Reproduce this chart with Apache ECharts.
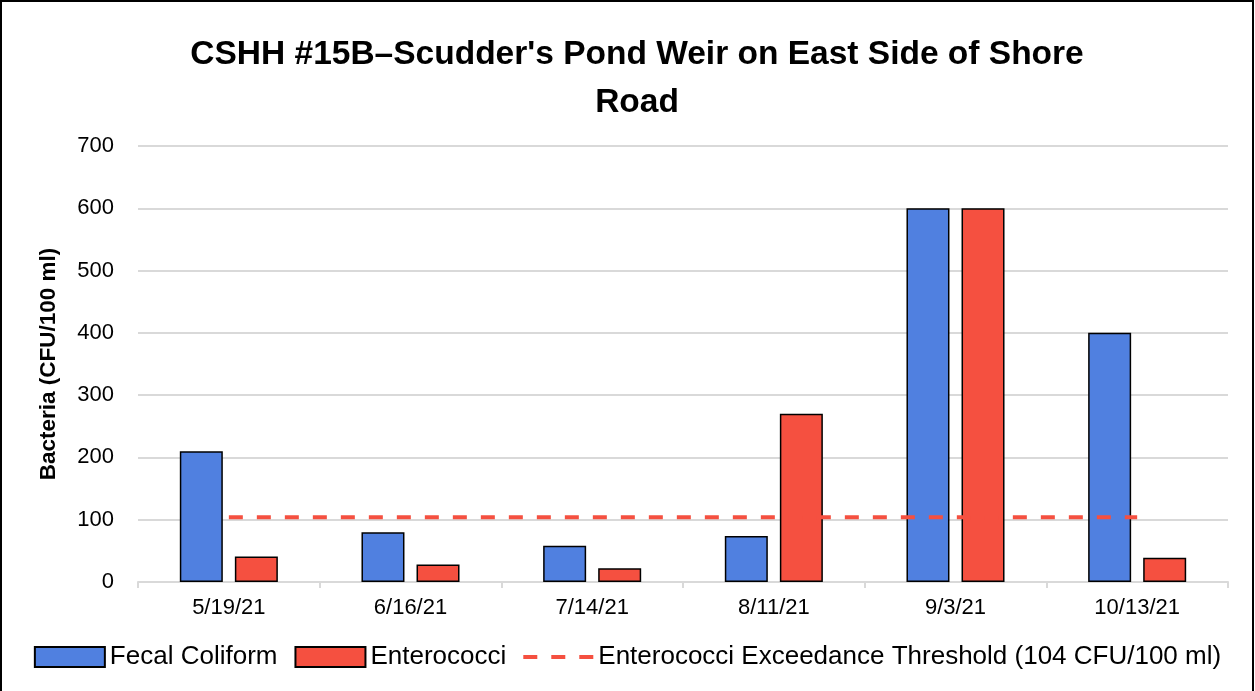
<!DOCTYPE html>
<html><head><meta charset="utf-8">
<script src="https://cdn.jsdelivr.net/npm/echarts@6/dist/echarts.min.js"></script>
<style>html,body{margin:0;padding:0;background:#fff}#c{width:1255px;height:691px}</style>
</head><body><div id="c"></div>
<script>
const categories = ['5/19/21','6/16/21','7/14/21','8/11/21','9/3/21','10/13/21'];
const fecalColiform = [210, 80, 58, 74, 600, 400];
const enterococci = [41, 28, 22, 270, 600, 39];
const threshold = [104, 104, 104, 104, 104, 104];
const yTicks = {min: 0, max: 700, interval: 100};

const font = 'Liberation Sans';
const chart = echarts.init(document.getElementById('c'));
chart.setOption({
  animation: false,
  backgroundColor: '#fff',
  textStyle: {fontFamily: font},
  graphic: [{type: 'rect', shape: {x: 1, y: 1, width: 1252, height: 700}, style: {fill: 'none', stroke: '#000', lineWidth: 2}, silent: true}],
  title: {
    text: "CSHH #15B\u2013Scudder's Pond Weir on East Side of Shore\nRoad",
    left: 632, textAlign: 'center', top: 26,
    textStyle: {fontFamily: font, fontSize: 33.5, fontWeight: 'bold', color: '#000', lineHeight: 48}
  },
  legend: {
    bottom: 16, left: 'center', itemWidth: 70, itemHeight: 20, itemGap: 17,
    textStyle: {fontFamily: font, fontSize: 26, color: '#000'},
    data: [
      {name: 'Fecal Coliform', icon: 'rect'},
      {name: 'Enterococci', icon: 'rect'},
      {name: 'Enterococci Exceedance Threshold (104 CFU/100 ml)', icon: 'path://M0,0h14v4h-14z M28,0h14v4h-14z M56,0h14v4h-14z', itemStyle: {color: '#f55040', borderWidth: 0}}
    ]
  },
  grid: {left: 138, right: 27, top: 146, bottom: 109, containLabel: false},
  xAxis: {
    type: 'category', data: categories,
    axisLine: {lineStyle: {color: '#d9d9d9', width: 2}},
    axisTick: {show: true, length: 6, lineStyle: {color: '#d9d9d9', width: 2}},
    axisLabel: {fontFamily: font, fontSize: 22, color: '#000', margin: 15}
  },
  yAxis: {
    type: 'value', min: yTicks.min, max: yTicks.max, interval: yTicks.interval,
    name: 'Bacteria (CFU/100 ml)', nameLocation: 'middle', nameGap: 78, nameRotate: 90,
    nameTextStyle: {fontFamily: font, fontSize: 22.5, fontWeight: 'bold', color: '#000'},
    axisLine: {show: false}, axisTick: {show: false},
    axisLabel: {fontFamily: font, fontSize: 22, color: '#000', margin: 24},
    splitLine: {lineStyle: {color: '#d9d9d9', width: 2}}
  },
  series: [
    {name: 'Fecal Coliform', type: 'bar', data: fecalColiform, barWidth: 43, barGap: '28%',
     itemStyle: {color: '#5080e0', borderColor: '#000', borderWidth: 1.5}},
    {name: 'Enterococci', type: 'bar', data: enterococci, barWidth: 43,
     itemStyle: {color: '#f55040', borderColor: '#000', borderWidth: 1.5}},
    {name: 'Enterococci Exceedance Threshold (104 CFU/100 ml)', type: 'line', data: threshold,
     symbol: 'none', symbolKeepAspect: true, lineStyle: {color: '#f55040', width: 4, type: [14, 14]}, itemStyle: {color: '#f55040'}}
  ]
});
</script></body></html>
